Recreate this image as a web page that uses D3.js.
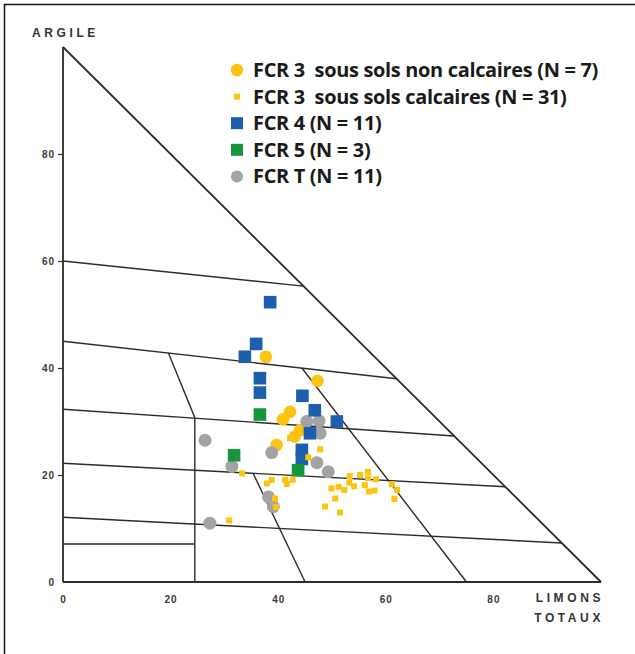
<!DOCTYPE html>
<html>
<head>
<meta charset="utf-8">
<script src="https://cdn.jsdelivr.net/npm/d3@7"></script>
<style>
  body { margin: 0; background: #fff; }
  svg { display: block; }
</style>
</head>
<body>
<div id="chart"></div>
<script>
// [limons totaux, argile] in %
const fcr3NonCalc = [
    [37.7, 42.1], [47.3, 37.6], [42.2, 31.8], [40.9, 30.4],
    [44.1, 28.4], [43.1, 27.2], [39.7, 25.6]
];
const fcr3Calc = [
    [33.3, 20.3], [37.9, 18.4], [38.8, 19.1], [41.3, 19.1], [41.6, 18.3],
    [42.7, 19.1], [39.4, 15.6], [39.6, 14.0], [30.9, 11.5], [47.8, 24.8],
    [45.6, 23.3], [53.3, 19.8], [55.2, 20.0], [56.7, 20.6], [56.7, 19.4],
    [58.2, 19.2], [53.2, 18.6], [54.1, 17.9], [56.1, 18.1], [49.9, 17.5],
    [51.2, 17.8], [52.3, 17.2], [56.9, 16.9], [57.9, 17.1], [50.6, 15.6],
    [48.7, 14.1], [51.5, 13.0], [61.1, 18.3], [62.1, 17.2], [61.6, 15.5],
    [42.2, 26.9]
];
const fcr4 = [
    [38.5, 52.3], [35.9, 44.5], [33.8, 42.1], [36.6, 38.1], [36.6, 35.4],
    [44.5, 34.8], [46.8, 32.1], [50.9, 30.0], [45.9, 27.8], [44.4, 24.7],
    [44.4, 23.0]
];
const fcr5 = [[36.6, 31.3], [31.8, 23.7], [43.7, 20.9]];
const fcrT = [
    [45.3, 30.0], [47.6, 30.1], [47.8, 27.8], [38.8, 24.2], [26.4, 26.5],
    [31.4, 21.6], [38.2, 15.9], [39.1, 14.1], [27.3, 11.0], [47.2, 22.3],
    [49.3, 20.6]
];

const legendLabels = [
    'FCR 3  sous sols non calcaires (N = 7)',
    'FCR 3  sous sols calcaires (N = 31)',
    'FCR 4 (N = 11)',
    'FCR 5 (N = 3)',
    'FCR T (N = 11)'
];
const argileTicks = [0, 20, 40, 60, 80];
const limonsTicks = [0, 20, 40, 60, 80];

// class boundaries of the texture triangle, [limons, argile] end points
const triangleEdges = [
    [[0, 0], [0, 100]], [[0, 0], [100, 0]], [[0, 100], [100, 0]]
];
const classLines = [
    [[0, 60], [44.7, 55.3]],
    [[0, 45], [62, 38]],
    [[0, 32.3], [72.7, 27.3]],
    [[0, 22.2], [82.2, 17.8]],
    [[0, 12.1], [92.7, 7.3]],
    [[0, 7.1], [24.5, 7.1]],
    [[19.6, 42.8], [24.5, 30.7], [24.5, 0]],
    [[35.4, 20.2], [45, 0]],
    [[44.4, 40.0], [75, 0]]
];

const WIDTH = 635;
const HEIGHT = 654;
const INK = '#2b2b2b';

const svg = d3.select('#chart')
    .append('svg')
    .attr('width', WIDTH)
    .attr('height', HEIGHT);

// picture frame
svg.append('path')
    .attr('d', 'M4.5,' + HEIGHT + 'V4.5H' + WIDTH)
    .attr('fill', 'none')
    .attr('stroke', '#111')
    .attr('stroke-width', 1.5);

const x = d3.scaleLinear().domain([0, 100]).range([63, 601]);
const y = d3.scaleLinear().domain([0, 100]).range([582, 47]);

const line = d3.line().x(d => x(d[0])).y(d => y(d[1]));

svg.append('g')
    .selectAll('path')
    .data(classLines)
    .join('path')
    .attr('d', line)
    .attr('fill', 'none')
    .attr('stroke', INK)
    .attr('stroke-width', 1.4);

svg.append('g')
    .selectAll('path')
    .data(triangleEdges)
    .join('path')
    .attr('d', line)
    .attr('fill', 'none')
    .attr('stroke', INK)
    .attr('stroke-width', 1.8);

const tickFont = 'bold 10px "Liberation Sans", sans-serif';

const leftAxis = svg.append('g')
    .attr('transform', 'translate(' + x(0) + ',0)')
    .call(d3.axisLeft(y).tickValues(argileTicks).tickSize(5).tickPadding(3));
leftAxis.select('.domain').remove();
leftAxis.selectAll('line').attr('stroke', INK).attr('stroke-width', 1.2);
leftAxis.selectAll('text')
    .attr('fill', '#3a3a3a')
    .style('font', tickFont)
    .style('letter-spacing', '1px');
leftAxis.selectAll('.tick').filter(d => d === 0).select('line').remove();

const bottomAxis = svg.append('g')
    .attr('transform', 'translate(0,' + y(0) + ')')
    .call(d3.axisBottom(x).tickValues(limonsTicks).tickSize(0).tickPadding(14));
bottomAxis.select('.domain').remove();
bottomAxis.selectAll('text')
    .attr('fill', '#3a3a3a')
    .style('font', tickFont)
    .style('letter-spacing', '1px');

function addTitle(txt, tx, ty, anchor) {
    svg.append('text')
        .attr('x', tx)
        .attr('y', ty)
        .attr('text-anchor', anchor)
        .attr('fill', '#333')
        .style('font', 'bold 12px "Liberation Sans", sans-serif')
        .style('letter-spacing', '3.6px')
        .text(txt);
}
addTitle('ARGILE', 32, 37, 'start');
addTitle('LIMONS', 604, 602, 'end');
addTitle('TOTAUX', 604, 622, 'end');

// points
const YELLOW = '#fcc30f';
const BLUE = '#1d5fae';
const GREEN = '#16973c';
const GREY = '#a3a3a3';

const marks = svg.append('g');

marks.selectAll('.big-yellow')
    .data(fcr3NonCalc)
    .join('circle')
    .attr('cx', d => x(d[0]))
    .attr('cy', d => y(d[1]))
    .attr('r', 6.3)
    .attr('fill', YELLOW);

marks.selectAll('.grey')
    .data(fcrT)
    .join('circle')
    .attr('cx', d => x(d[0]))
    .attr('cy', d => y(d[1]))
    .attr('r', 6.5)
    .attr('fill', GREY);

marks.selectAll('.blue')
    .data(fcr4)
    .join('rect')
    .attr('x', d => x(d[0]) - 6.3)
    .attr('y', d => y(d[1]) - 6.3)
    .attr('width', 12.6)
    .attr('height', 12.6)
    .attr('fill', BLUE);

marks.selectAll('.green')
    .data(fcr5)
    .join('rect')
    .attr('x', d => x(d[0]) - 6.3)
    .attr('y', d => y(d[1]) - 6.3)
    .attr('width', 12.6)
    .attr('height', 12.6)
    .attr('fill', GREEN);

marks.selectAll('.small-yellow')
    .data(fcr3Calc)
    .join('rect')
    .attr('x', d => x(d[0]) - 3)
    .attr('y', d => y(d[1]) - 3)
    .attr('width', 6)
    .attr('height', 6)
    .attr('fill', YELLOW);

// legend
const legend = svg.append('g').attr('transform', 'translate(237,70)');
const rowGap = 26.6;
const symbols = [
    g => g.append('circle').attr('r', 6.3).attr('fill', YELLOW),
    g => g.append('rect').attr('x', -3).attr('y', -3).attr('width', 6).attr('height', 6).attr('fill', YELLOW),
    g => g.append('rect').attr('x', -6).attr('y', -6).attr('width', 12).attr('height', 12).attr('fill', BLUE),
    g => g.append('rect').attr('x', -6).attr('y', -6).attr('width', 12).attr('height', 12).attr('fill', GREEN),
    g => g.append('circle').attr('r', 6).attr('fill', GREY)
];
const legendTexts = [];
legendLabels.forEach((label, i) => {
    const row = legend.append('g').attr('transform', 'translate(0,' + (i * rowGap) + ')');
    symbols[i](row);
    legendTexts.push(row.append('text')
        .attr('x', 16)
        .attr('y', 7)
        .style('white-space', 'pre')
        .style('font-family', '"Open Sans", sans-serif')
        .style('font-weight', 'bold')
        .style('font-size', '18px')
        .style('letter-spacing', '-0.3px')
        .attr('fill', '#1a1a1a')
        .text(label));
});
// the first row spans about 344px in the picture, size the font to that
const measured = legendTexts[0].node().getComputedTextLength();
const fitted = Math.min(21, 18 * 344 / measured);
legendTexts.forEach(t => t.style('font-size', fitted + 'px'));
</script>
</body>
</html>
